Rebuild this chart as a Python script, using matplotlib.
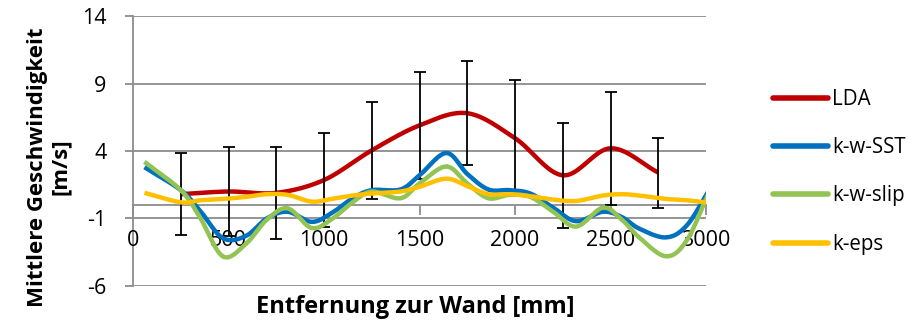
import numpy as np
import matplotlib.pyplot as plt

plt.rcParams['font.family'] = ['Open Sans', 'DejaVu Sans']
plt.rcParams['axes.unicode_minus'] = False

# LDA measurements with error bars
lda_x = [250, 500, 750, 1000, 1250, 1500, 1750, 2000, 2250, 2500, 2750]
lda_v = [0.8, 1.0, 0.9, 1.85, 4.05, 5.9, 6.8, 4.95, 2.2, 4.2, 2.4]
lda_err = [3.05, 3.3, 3.4, 3.45, 3.6, 3.95, 3.85, 4.3, 3.9, 4.2, 2.6]

# simulation results
sim_x = [60, 250, 350, 470, 590, 700, 810, 935, 1040, 1150, 1250, 1400, 1500,
         1640, 1750, 1860, 1970, 2080, 2200, 2320, 2460, 2560, 2650, 2790, 2900, 3020]
sst = [2.8, 1.1, -0.4, -2.45, -2.3, -1.0, -0.5, -1.25, -0.6, 0.5, 1.1, 1.15, 2.2,
       3.85, 2.3, 1.15, 1.1, 0.85, -0.2, -1.2, -0.5, -0.9, -1.75, -2.4, -1.5, 1.2]
slip = [3.2, 1.1, -0.9, -3.8, -2.9, -1.1, -0.25, -1.7, -1.05, 0.2, 1.0, 0.5, 1.6,
        2.85, 1.6, 0.5, 0.75, 0.6, -0.5, -1.6, -0.2, -1.1, -2.4, -3.8, -2.6, 1.1]
keps = [0.9, 0.2, 0.35, 0.45, 0.6, 0.8, 0.75, 0.25, 0.45, 0.7, 0.85, 1.0, 1.35,
        1.95, 1.4, 0.8, 0.8, 0.65, 0.4, 0.3, 0.7, 0.8, 0.7, 0.45, 0.35, 0.15]

labels = ['LDA', 'k-w-SST', 'k-w-slip', 'k-eps']
colors = ['#C00000', '#0070C0', '#92C353', '#FFC000']


def smooth(x, y, n=24):
    # catmull-rom like Excel's "smoothed line"
    x = np.asarray(x, float)
    y = np.asarray(y, float)
    px = np.concatenate([[2*x[0]-x[1]], x, [2*x[-1]-x[-2]]])
    py = np.concatenate([[2*y[0]-y[1]], y, [2*y[-1]-y[-2]]])
    t = np.linspace(0, 1, n)[:, None]
    out_x, out_y = [], []
    for i in range(1, len(px) - 2):
        for p, o in ((px, out_x), (py, out_y)):
            p0, p1, p2, p3 = p[i-1], p[i], p[i+1], p[i+2]
            c = 0.5*((2*p1) + (-p0+p2)*t + (2*p0-5*p1+4*p2-p3)*t**2 + (-p0+3*p1-3*p2+p3)*t**3)
            o.append(c.ravel())
    return np.concatenate(out_x), np.concatenate(out_y)


fig = plt.figure(figsize=(9.21, 3.24), dpi=100)
ax = fig.add_axes([0.1444, 0.1173, 0.7666 - 0.1444, 0.9506 - 0.1173])

grid_c = '#8C8C8C'
ax.set_xlim(0, 3000)
ax.set_ylim(-6, 14)
ax.set_yticks([-6, -1, 4, 9, 14])
ax.set_xticks(range(0, 3001, 500))
for yv in [-6, -1, 4, 9, 14]:
    ax.axhline(yv, color=grid_c, lw=1.3, zorder=0)

lines = []
sx, sy = smooth(lda_x, lda_v)
l, = ax.plot(sx, sy, color=colors[0], lw=3.2, solid_capstyle='butt', zorder=2)
lines.append(l)
ax.errorbar(lda_x, lda_v, yerr=lda_err, fmt='none', ecolor='black',
            elinewidth=1.3, capsize=4, capthick=1.3, zorder=2.5)
for i, s in enumerate([sst, slip, keps]):
    sx, sy = smooth(sim_x, s)
    l, = ax.plot(sx, sy, color=colors[i+1], lw=3.2, solid_capstyle='butt', zorder=3+i)
    lines.append(l)

for sp in ['top', 'right']:
    ax.spines[sp].set_visible(False)
for sp in ['left', 'bottom']:
    ax.spines[sp].set_color(grid_c)
    ax.spines[sp].set_linewidth(1.3)
    ax.spines[sp].set_position(('data', 0))
    ax.spines[sp].set_zorder(0.5)

ax.tick_params(axis='y', direction='out', length=6, width=1.3, color=grid_c,
               labelsize=15.5, pad=13)
ax.tick_params(axis='x', direction='out', length=7, width=1.3, color=grid_c,
               labelsize=15.5, pad=11)

fig.text(0.451, 0.034, 'Entfernung zur Wand [mm]', ha='center', va='baseline',
         fontsize=17, fontweight='bold')
fig.text(0.053, 0.485, 'Mittlere Geschwindigkeit\n[m/s]', rotation=90, ha='center',
         va='center', fontsize=16, fontweight='bold', linespacing=1.1)

leg = fig.legend(lines, labels, loc='center left', bbox_to_anchor=(0.819, 0.47),
                 frameon=False, fontsize=14.8, handlelength=2.67, handletextpad=0.2,
                 labelspacing=1.33)
for h in leg.get_lines():
    h.set_linewidth(4)
    h.set_solid_capstyle('round')

fig.savefig('out.png', dpi=100)
